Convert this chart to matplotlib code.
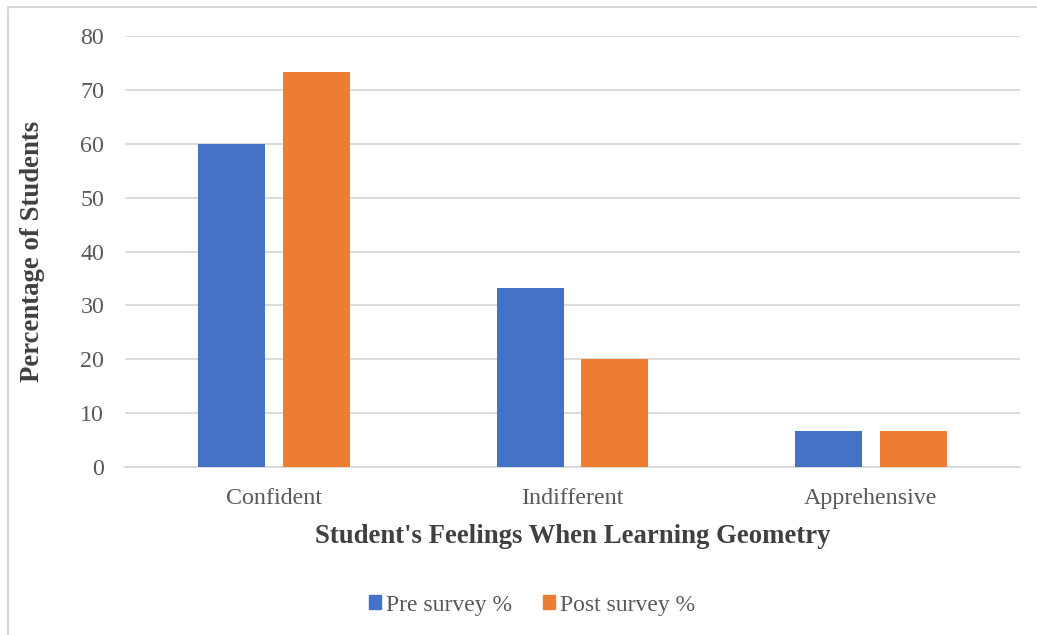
import matplotlib
matplotlib.use("Agg")
import matplotlib.pyplot as plt
import numpy as np
from matplotlib.patches import Rectangle
from matplotlib.lines import Line2D

categories = ["Confident", "Indifferent", "Apprehensive"]
pre_survey = [60.0, 33.3, 6.7]
post_survey = [73.3, 20.0, 6.7]
series_names = ["Pre survey %", "Post survey %"]
y_ticks = [0, 10, 20, 30, 40, 50, 60, 70, 80]

plt.rcParams['font.family'] = ['Liberation Serif', 'DejaVu Serif']

W, H = 1037, 635
fig = plt.figure(figsize=(W / 100, H / 100), dpi=100)
ax = fig.add_axes([125 / W, 1 - 467 / H, (1020 - 125) / W, (467 - 36) / H])

x = np.arange(len(categories))
bw = 0.225
off = 0.1417
c_pre = "#4472C4"
c_post = "#ED7D31"
ax.bar(x - off, pre_survey, bw, color=c_pre, zorder=3)
ax.bar(x + off, post_survey, bw, color=c_post, zorder=3)

ax.set_xlim(-0.5, 2.5)
ax.set_ylim(0, 80)
ax.set_yticks(y_ticks)
ax.set_xticks(x)
ax.set_xticklabels(categories)
ax.grid(axis='y', color="#D9D9D9", linewidth=1.3, zorder=0)
ax.set_axisbelow(True)
for s in ['top', 'right', 'left']:
    ax.spines[s].set_visible(False)
ax.spines['bottom'].set_color("#D9D9D9")
ax.spines['bottom'].set_linewidth(1.3)
ax.tick_params(axis='both', length=0, labelsize=17.3, colors="#595959")
ax.tick_params(axis='y', pad=15)
ax.tick_params(axis='x', pad=15)

ax.set_ylabel("Percentage of Students", fontsize=19.3, fontweight='bold', color="#404040", labelpad=25)
ax.set_xlabel("Student's Feelings When Learning Geometry", fontsize=19.3, fontweight='bold', color="#404040", labelpad=11)

handles = [Rectangle((0, 0), 1, 1, color=c_pre), Rectangle((0, 0), 1, 1, color=c_post)]
leg = fig.legend(handles, series_names, loc='center', bbox_to_anchor=(532 / W, 1 - 605 / H),
                 ncol=2, frameon=False, fontsize=17, handlelength=0.52, handleheight=0.55,
                 handletextpad=0.22, columnspacing=1.3)
for t in leg.get_texts():
    t.set_color("#595959")

# outer frame lines
fig.add_artist(Line2D([7.5 / W, 7.5 / W], [0, 1 - 7 / H], color="#D9D9D9", linewidth=1.5, transform=fig.transFigure))
fig.add_artist(Line2D([7.5 / W, 1], [1 - 7 / H, 1 - 7 / H], color="#D9D9D9", linewidth=1.5, transform=fig.transFigure))

fig.savefig("out.png", dpi=100)
